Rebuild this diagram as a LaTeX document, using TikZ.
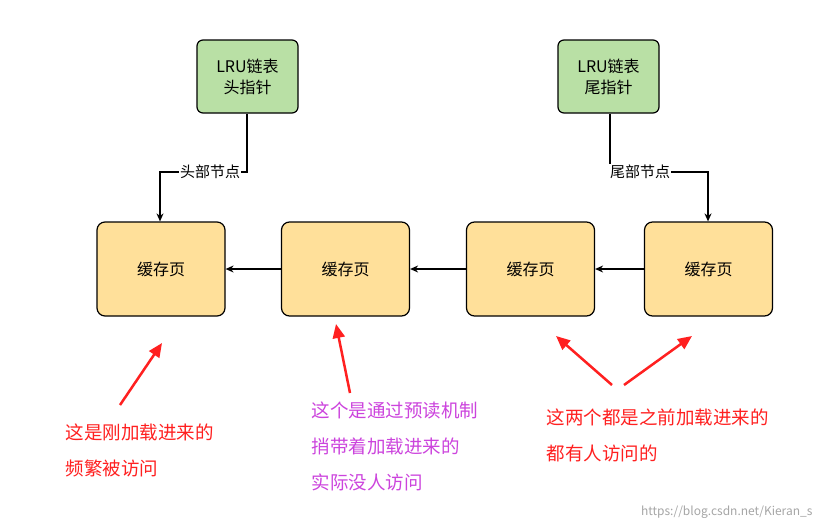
\documentclass[tikz,border=0pt]{standalone}
\usepackage{fontspec}
\setmainfont{Noto Sans CJK SC}
\usetikzlibrary{arrows.meta}
\begin{document}
\begin{tikzpicture}[x=1pt,y=-1pt,
  gbox/.style={draw=black,fill=green1,rounded corners=6pt,minimum width=101pt,minimum height=73pt,align=center,font=\fontsize{16}{21}\selectfont,line width=1.2pt},
  ybox/.style={draw=black,fill=yel,rounded corners=8pt,minimum width=128pt,minimum height=94pt,font=\fontsize{16}{20}\selectfont,line width=1.2pt},
  conn/.style={-{Stealth[length=8pt,width=7pt]},line width=1.3pt},
  red/.style={-{Triangle[length=14pt,width=12pt]},draw=redc,line width=2.5pt},
  lab/.style={fill=white,inner sep=1pt,font=\fontsize{15}{18}\selectfont},
  note/.style={align=left,anchor=north west,font=\fontsize{18.5}{36}\selectfont}]
\definecolor{green1}{HTML}{B9E0A5}
\definecolor{yel}{HTML}{FFE09A}
\definecolor{redc}{HTML}{FF2020}
\definecolor{mag}{HTML}{CC44DD}
\fill[white] (0,0) rectangle (824,530);
\node[gbox] (h) at (247.5,76.5) {LRU链表\\头指针};
\node[gbox] (t) at (608.5,76.5) {LRU链表\\尾指针};
\node[ybox] (a) at (161,269) {缓存页};
\node[ybox] (b) at (345.5,269) {缓存页};
\node[ybox] (c) at (530.5,269) {缓存页};
\node[ybox] (d) at (708.5,269) {缓存页};
\coordinate (h1) at (247,172); \coordinate (h2) at (160,172);
\coordinate (t1) at (610,172); \coordinate (t2) at (708,172);
\draw[conn] (h.south -| h1) -- (h1) -- (h2) -- (a.north -| h2);
\draw[conn] (t.south -| t1) -- (t1) -- (t2) -- (d.north -| t2);
\node[lab] (hl) at (210,172) {头部节点};
\node[lab] (tl) at (640,172) {尾部节点};
\draw[conn] (b.west) -- (a.east);
\draw[conn] (c.west) -- (b.east);
\draw[conn] (d.west) -- (c.east);
\coordinate (r1s) at (120,405); \coordinate (r1e) at (162,343);
\coordinate (r2s) at (350,393); \coordinate (r2e) at (336,324);
\coordinate (r3s) at (612,385); \coordinate (r3e) at (556,336);
\coordinate (r4s) at (624,385); \coordinate (r4e) at (692,336);
\draw[red] (r1s) -- (r1e);
\draw[red] (r2s) -- (r2e);
\draw[red] (r3s) -- (r3e);
\draw[red] (r4s) -- (r4e);
\node[note,text=redc] (n1) at (62,420) {这是刚加载进来的\\频繁被访问};
\node[note,text=mag] (n2) at (308,398) {这个是通过预读机制\\捎带着加载进来的\\实际没人访问};
\node[note,text=redc] (n3) at (543,405) {这两个都是之前加载进来的\\都有人访问的};
\node[anchor=east,text=gray!70,font=\fontsize{12}{14}\selectfont] (w) at (816,512) {https://blog.csdn.net/Kieran\_s};
\end{tikzpicture}
\end{document}
